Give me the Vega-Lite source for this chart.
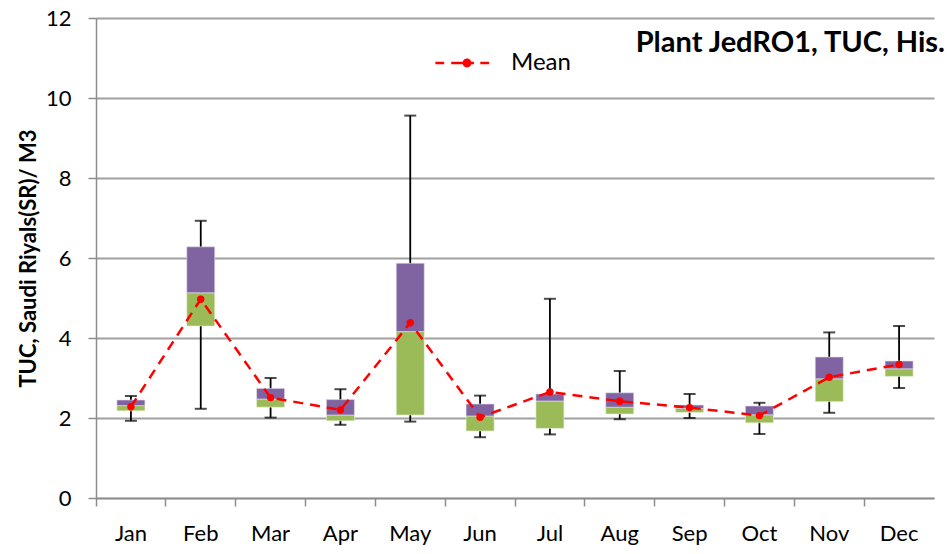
{
  "$schema": "https://vega.github.io/schema/vega-lite/v6.json",
  "autosize": "none",
  "padding": {"left": 96, "top": 18, "right": 15, "bottom": 56},
  "width": 838,
  "height": 480,
  "background": "white",
  "title": {
    "text": "Plant JedRO1, TUC, His.",
    "anchor": "end",
    "frame": "group",
    "orient": "top",
    "baseline": "alphabetic",
    "offset": 0,
    "dy": 74,
    "dx": 11,
    "font": "Lato",
    "fontSize": 29,
    "fontWeight": "bold",
    "color": "black"
  },
  "config": {
    "view": {"stroke": null},
    "font": "Lato"
  },
  "data": {
    "values": [
      {"month": "Jan", "min": 1.93, "q1": 2.18, "median": 2.31, "q3": 2.45, "max": 2.55, "mean": 2.28},
      {"month": "Feb", "min": 2.23, "q1": 4.30, "median": 5.13, "q3": 6.28, "max": 6.93, "mean": 4.97},
      {"month": "Mar", "min": 2.01, "q1": 2.27, "median": 2.475, "q3": 2.74, "max": 3.0, "mean": 2.51},
      {"month": "Apr", "min": 1.83, "q1": 1.93, "median": 2.075, "q3": 2.46, "max": 2.72, "mean": 2.2},
      {"month": "May", "min": 1.91, "q1": 2.075, "median": 4.16, "q3": 5.87, "max": 9.56, "mean": 4.38},
      {"month": "Jun", "min": 1.52, "q1": 1.675, "median": 2.05, "q3": 2.35, "max": 2.56, "mean": 2.02},
      {"month": "Jul", "min": 1.59, "q1": 1.74, "median": 2.425, "q3": 2.6, "max": 4.98, "mean": 2.65},
      {"month": "Aug", "min": 1.97, "q1": 2.1, "median": 2.27, "q3": 2.63, "max": 3.175, "mean": 2.42},
      {"month": "Sep", "min": 2.0, "q1": 2.14, "median": 2.24, "q3": 2.325, "max": 2.6, "mean": 2.26},
      {"month": "Oct", "min": 1.6, "q1": 1.88, "median": 2.08, "q3": 2.3, "max": 2.38, "mean": 2.06},
      {"month": "Nov", "min": 2.13, "q1": 2.41, "median": 2.98, "q3": 3.525, "max": 4.14, "mean": 3.02},
      {"month": "Dec", "min": 2.75, "q1": 3.04, "median": 3.23, "q3": 3.425, "max": 4.3, "mean": 3.34}
    ]
  },
  "encoding": {
    "x": {
      "field": "month",
      "type": "nominal",
      "sort": null,
      "scale": {"paddingInner": 0, "paddingOuter": 0},
      "axis": {
        "title": null,
        "labelAngle": 0,
        "labelFont": "Lato",
        "labelFontSize": 22,
        "labelColor": "black",
        "labelPadding": 17,
        "bandPosition": 0,
        "domainColor": "#8c8c8c",
        "domainWidth": 1.5,
        "tickColor": "#8c8c8c",
        "tickWidth": 1.5,
        "tickSize": 8,
        "grid": false
      }
    }
  },
  "layer": [
    {
      "mark": {"type": "rule", "color": "black", "strokeWidth": 1.8},
      "encoding": {
        "y": {
          "field": "min",
          "type": "quantitative",
          "scale": {"domain": [0, 12], "nice": false},
          "axis": {
            "values": [0, 2, 4, 6, 8, 10, 12],
            "title": "TUC, Saudi Riyals(SR)/ M3",
            "titleFont": "Lato",
            "titleFontSize": 22,
            "titleFontWeight": "bold",
            "titleColor": "black",
            "titleX": -68,
            "titleY": 240,
            "titleAngle": -90,
            "titleBaseline": "middle",
            "titleAlign": "center",
            "labelFont": "Lato",
            "labelFontSize": 22,
            "labelColor": "black",
            "labelPadding": 17,
            "domainColor": "#8c8c8c",
            "domainWidth": 1.5,
            "tickColor": "#8c8c8c",
            "tickWidth": 1.5,
            "tickSize": 8,
            "grid": true,
            "gridColor": "#a0a0a0",
            "gridWidth": 1.8
          }
        },
        "y2": {"field": "max"}
      }
    },
    {
      "mark": {"type": "tick", "color": "black", "size": 12, "thickness": 2, "orient": "horizontal"},
      "encoding": {"y": {"field": "min", "type": "quantitative"}}
    },
    {
      "mark": {"type": "tick", "color": "black", "size": 12, "thickness": 2, "orient": "horizontal"},
      "encoding": {"y": {"field": "max", "type": "quantitative"}}
    },
    {
      "mark": {"type": "bar", "width": 28, "color": "#9BBB59", "stroke": "#e6eedb", "strokeWidth": 0.6},
      "encoding": {
        "y": {"field": "q1", "type": "quantitative"},
        "y2": {"field": "median"}
      }
    },
    {
      "mark": {"type": "bar", "width": 28, "color": "#8064A2", "stroke": "#e3ddeb", "strokeWidth": 0.6},
      "encoding": {
        "y": {"field": "median", "type": "quantitative"},
        "y2": {"field": "q3"}
      }
    },
    {
      "mark": {"type": "line", "color": "#FF0000", "strokeWidth": 2.5, "strokeDash": [10, 7]},
      "encoding": {"y": {"field": "mean", "type": "quantitative"}}
    },
    {
      "mark": {"type": "point", "filled": true, "size": 55, "opacity": 1, "shape": "circle"},
      "encoding": {
        "y": {"field": "mean", "type": "quantitative"},
        "color": {
          "datum": "Mean",
          "scale": {"range": ["#FF0000"]},
          "legend": {
            "title": null,
            "orient": "none",
            "legendX": 339,
            "legendY": 13,
            "symbolType": "M-1,-0.04H-0.72V0.04H-1Z M-0.5,-0.04H-0.22V0.04H-0.5Z M-0.22,-0.04H-0.1V0.04H-0.22Z M0.1,-0.04H0.22V0.04H0.1Z M0.42,-0.04H0.7V0.04H0.42Z M-0.14,0A0.14,0.14 0 1,1 0.14,0A0.14,0.14 0 1,1 -0.14,0Z",
            "symbolSize": 4000,
            "symbolStrokeWidth": 0,
            "symbolFillColor": "#FF0000",
            "labelFont": "Lato",
            "labelFontSize": 24,
            "labelColor": "black",
            "labelOffset": 12
          }
        }
      }
    }
  ]
}
